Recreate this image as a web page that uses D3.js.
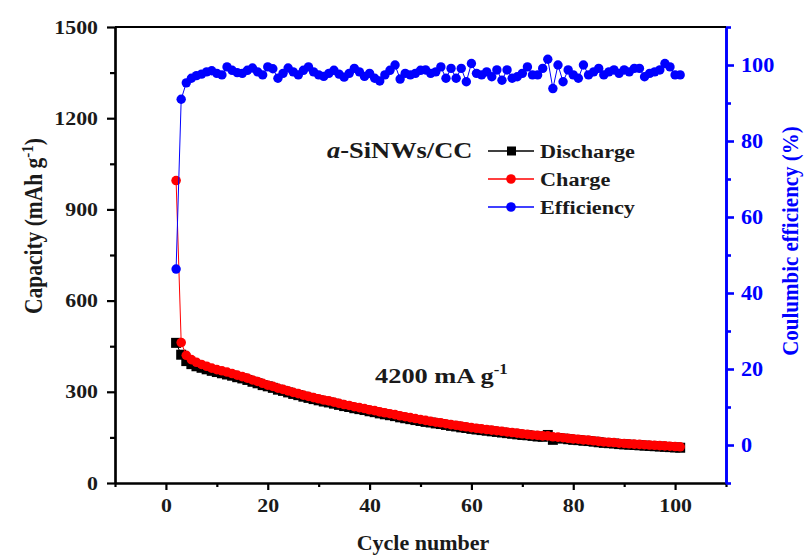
<!DOCTYPE html>
<html>
<head>
<meta charset="utf-8">
<script src="https://cdn.jsdelivr.net/npm/d3@7"></script>
<style>
  body { margin: 0; background: #fff; }
</style>
</head>
<body>
<div class="board"></div>
<script>
var width = 806;
var height = 555;

// cycle numbers 2..101
var cycles = d3.range(2, 102);

// capacities in mAh g-1
var discharge = [
  461, 422, 401, 391, 384, 379, 374, 369, 365, 361,
  357, 353, 348, 344, 339, 333, 328, 322, 318, 313,
  307, 303, 298, 293, 289, 284, 280, 276, 272, 268,
  265, 261, 257, 253, 250, 246, 243, 240, 236, 233,
  229, 226, 223, 220, 216, 213, 210, 207, 204, 201,
  199, 196, 194, 191, 188, 186, 183, 181, 178, 176,
  174, 172, 170, 168, 166, 164, 162, 160, 158, 157,
  155, 153, 152, 158, 142, 148, 146, 144, 142, 141,
  139, 138, 136, 134, 132, 131, 130, 128, 127, 126,
  125, 124, 123, 122, 121, 120, 119, 118, 117, 116
];
var charge = [
  995, 462, 420, 406, 397, 390, 384, 378, 373, 369,
  365, 360, 355, 350, 345, 339, 334, 328, 322, 318,
  312, 308, 303, 298, 294, 289, 285, 281, 277, 273,
  270, 266, 262, 258, 255, 251, 248, 245, 241, 238,
  234, 231, 228, 225, 221, 218, 215, 212, 209, 206,
  203, 200, 198, 195, 192, 190, 187, 185, 182, 180,
  178, 176, 174, 172, 170, 168, 166, 164, 162, 160,
  158, 157, 155, 155, 152, 151, 149, 147, 145, 144,
  142, 141, 139, 137, 135, 134, 133, 131, 130, 129,
  128, 127, 126, 125, 124, 123, 122, 121, 120, 119
];
// coulombic efficiency in %
var efficiency = [
  46.3, 91.0, 95.3, 96.5, 97.2, 97.6, 98.2, 98.5, 97.8, 97.4,
  99.5, 98.6, 98.0, 97.8, 98.6, 99.2, 98.2, 97.4, 99.5, 99.0,
  96.5, 97.8, 99.2, 98.2, 97.4, 98.6, 99.5, 98.2, 97.4, 97.0,
  97.8, 98.6, 97.6, 96.8, 97.8, 99.1, 98.2, 97.0, 97.8, 96.5,
  95.8, 97.4, 98.6, 100.0, 96.3, 97.8, 97.4, 97.8, 98.6, 98.7,
  97.8, 98.2, 99.5, 96.5, 99.1, 96.5, 99.1, 95.6, 100.4, 97.8,
  97.4, 98.2, 96.9, 98.7, 96.0, 98.7, 96.5, 96.9, 97.8, 99.5,
  97.4, 97.4, 99.1, 101.5, 93.8, 100.0, 95.6, 98.7, 97.4, 96.5,
  100.0, 97.4, 98.2, 99.1, 97.4, 98.2, 98.7, 97.8, 98.7, 98.2,
  99.1, 99.1, 96.9, 97.8, 98.2, 98.7, 100.4, 99.5, 97.4, 97.4
];

var xTicks = [0, 20, 40, 60, 80, 100];
var xMinor = [-10, 10, 30, 50, 70, 90, 110];
var capTicks = [0, 300, 600, 900, 1200, 1500];
var capMinor = [150, 450, 750, 1050, 1350];
var effTicks = [0, 20, 40, 60, 80, 100];
var effMinor = [-10, 10, 30, 50, 70, 90, 110];
var legendNames = ["Discharge", "Charge", "Efficiency"];

var serif = "'Liberation Serif', 'Times New Roman', serif";
var blue = "#0000ff", red = "#ff0000", ink = "#1a1a1a";

var svg = d3.select(".board").append("svg")
  .attr("width", width)
  .attr("height", height)
  .style("font-family", serif)
  .style("font-weight", "bold");

var x = d3.scaleLinear().domain([-10, 110]).range([115, 726]);
var yCap = d3.scaleLinear().domain([0, 1500]).range([483, 27]);
var yEff = d3.scaleLinear().domain([-10, 110]).range([483, 27]);

// ---- axes ----
var sx = 1.15; // the glyphs in the picture are a bit wide
var fmt = d3.format("d");

var bottom = svg.append("g").attr("transform", "translate(0,483)")
  .call(d3.axisBottom(x).tickValues(xTicks).tickSize(7).tickSizeOuter(0).tickPadding(9).tickFormat(fmt));
svg.append("g").attr("transform", "translate(0,483)")
  .call(d3.axisBottom(x).tickValues(xMinor).tickSize(4).tickSizeOuter(0).tickFormat(""));

var left = svg.append("g").attr("transform", "translate(115,0)")
  .call(d3.axisLeft(yCap).tickValues(capTicks).tickSize(8).tickSizeOuter(0).tickFormat(fmt));
svg.append("g").attr("transform", "translate(115,0)")
  .call(d3.axisLeft(yCap).tickValues(capMinor).tickSize(5).tickSizeOuter(0).tickFormat(""));

var right = svg.append("g").attr("class", "eff-axis").attr("transform", "translate(726,0)")
  .call(d3.axisRight(yEff).tickValues(effTicks).tickSize(8).tickSizeOuter(0).tickFormat(fmt));
svg.append("g").attr("class", "eff-axis").attr("transform", "translate(726,0)")
  .call(d3.axisRight(yEff).tickValues(effMinor).tickSize(5).tickSizeOuter(0).tickFormat(""));

svg.selectAll(".domain, .tick line").attr("stroke-width", 2.2);
svg.selectAll(".eff-axis").selectAll(".domain, line").attr("stroke", blue).attr("stroke-width", 2.6);

bottom.selectAll("text")
  .style("font-family", serif).style("font-weight", "bold").style("font-size", "19px")
  .attr("fill", ink)
  .attr("transform", "scale(" + sx + ",1)")
  .attr("x", 0);
left.selectAll("text")
  .style("font-family", serif).style("font-weight", "bold").style("font-size", "19px")
  .attr("fill", ink)
  .attr("transform", "scale(" + sx + ",1)")
  .attr("x", -17 / sx);
right.selectAll("text")
  .style("font-family", serif).style("font-weight", "bold").style("font-size", "21px")
  .attr("fill", blue)
  .attr("transform", "scale(1.06,1)")
  .attr("x", 15 / 1.06);

// top frame
svg.append("line")
  .attr("x1", x(-10)).attr("x2", x(110))
  .attr("y1", yCap(1500)).attr("y2", yCap(1500))
  .attr("stroke", "#000").attr("stroke-width", 2.2);

// ---- axis titles ----
svg.append("text")
  .attr("x", 423).attr("y", 550)
  .attr("text-anchor", "middle")
  .style("font-size", "22px").attr("fill", ink)
  .text("Cycle number");

var capTitle = svg.append("text")
  .attr("transform", "translate(42,226) scale(1.17,1) rotate(-90)")
  .attr("text-anchor", "middle")
  .style("font-size", "21.5px").attr("fill", ink);
capTitle.append("tspan").text("Capacity (mAh g");
capTitle.append("tspan").attr("dy", -8).style("font-size", "15px").text("-1");
capTitle.append("tspan").attr("dy", 8).text(")");

svg.append("text")
  .attr("transform", "translate(798,241) scale(1.12,1) rotate(-90)")
  .attr("text-anchor", "middle")
  .style("font-size", "21px").attr("fill", blue)
  .text("Coulumbic efficiency (%)");

// ---- data ----
var lineCap = function (vals) {
  return d3.line().x(function (d, i) { return x(cycles[i]); })
    .y(function (d) { return yCap(d); })(vals);
};

svg.append("path").attr("d", lineCap(discharge))
  .attr("fill", "none").attr("stroke", "#000").attr("stroke-width", 1);
svg.selectAll("rect.dis").data(discharge).enter().append("rect")
  .attr("class", "dis")
  .attr("x", function (d, i) { return x(cycles[i]) - 5; })
  .attr("y", function (d) { return yCap(d) - 5; })
  .attr("width", 10).attr("height", 10)
  .attr("fill", "#000");

svg.append("path").attr("d", lineCap(charge))
  .attr("fill", "none").attr("stroke", red).attr("stroke-width", 1);
svg.selectAll("circle.chg").data(charge).enter().append("circle")
  .attr("class", "chg")
  .attr("cx", function (d, i) { return x(cycles[i]); })
  .attr("cy", function (d) { return yCap(d); })
  .attr("r", 4.8)
  .attr("fill", red);

var effLine = d3.line().x(function (d, i) { return x(cycles[i]); })
  .y(function (d) { return yEff(d); });
svg.append("path").attr("d", effLine(efficiency))
  .attr("fill", "none").attr("stroke", blue).attr("stroke-width", 1);
svg.selectAll("circle.eff").data(efficiency).enter().append("circle")
  .attr("class", "eff")
  .attr("cx", function (d, i) { return x(cycles[i]); })
  .attr("cy", function (d) { return yEff(d); })
  .attr("r", 4.7)
  .attr("fill", blue);

// ---- legend ----
var title = svg.append("g").attr("transform", "translate(327,158) scale(1.15,1)")
  .append("text").style("font-size", "23px").attr("fill", ink);
title.append("tspan").style("font-style", "italic").text("a");
title.append("tspan").text("-SiNWs/CC");

var legendColors = ["#000", red, blue];
legendNames.forEach(function (name, i) {
  var ly = 151 + i * 28;
  var g = svg.append("g");
  g.append("line").attr("x1", 488).attr("x2", 534).attr("y1", ly).attr("y2", ly)
    .attr("stroke", legendColors[i]).attr("stroke-width", 1.3);
  if (i === 0) {
    g.append("rect").attr("x", 507).attr("y", ly - 4.5).attr("width", 9).attr("height", 9).attr("fill", "#000");
  } else {
    g.append("circle").attr("cx", 511).attr("cy", ly).attr("r", 4.8).attr("fill", legendColors[i]);
  }
  svg.append("g").attr("transform", "translate(540," + (ly + 7) + ") scale(1.17,1)")
    .append("text").style("font-size", "19px").attr("fill", ink).text(name);
});

// current density note
var note = svg.append("g").attr("transform", "translate(375,383) scale(1.2,1)")
  .append("text").style("font-size", "22px").attr("fill", ink);
note.append("tspan").text("4200 mA g");
note.append("tspan").attr("dy", -9).style("font-size", "14px").text("-1");
</script>
</body>
</html>
